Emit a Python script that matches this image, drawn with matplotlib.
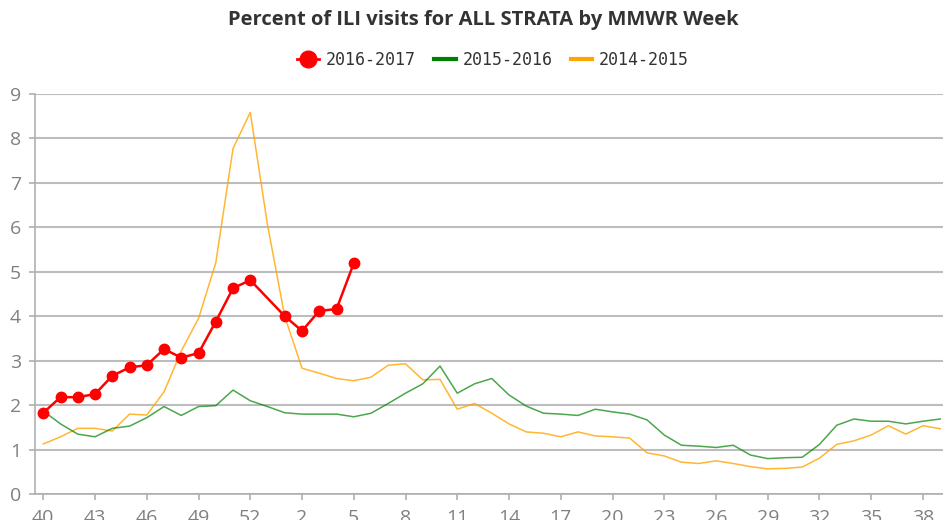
import matplotlib
matplotlib.use("Agg")
import matplotlib.pyplot as plt
from matplotlib.lines import Line2D
import numpy as np

weeks = list(range(40, 54)) + list(range(1, 40))

s2016 = [1.83, 2.18, 2.18, 2.25, 2.66, 2.85, 2.90, 3.26, 3.07, 3.17, 3.88, 4.63, 4.81,
         None, 4.00, 3.67, 4.12, 4.16, 5.19]

s2015 = [1.87, 1.58, 1.35, 1.29, 1.48, 1.53, 1.72, 1.97, 1.77, 1.97, 1.99, 2.34, 2.10,
         1.97, 1.83, 1.80, 1.80, 1.80, 1.74, 1.82, 2.04, 2.27, 2.48, 2.88, 2.27, 2.48,
         2.60, 2.23, 1.98, 1.82, 1.80, 1.77, 1.91, 1.85, 1.80, 1.67, 1.33, 1.10, 1.08,
         1.05, 1.10, 0.88, 0.80, 0.82, 0.83, 1.12, 1.55, 1.69, 1.64, 1.64, 1.58, 1.64, 1.69]

s2014 = [1.13, 1.29, 1.48, 1.48, 1.42, 1.80, 1.78, 2.30, 3.22, 3.95, 5.20, 7.77, 8.58,
         6.05, 3.99, 2.83, 2.72, 2.60, 2.55, 2.63, 2.90, 2.93, 2.57, 2.58, 1.91, 2.04,
         1.82, 1.58, 1.40, 1.37, 1.29, 1.40, 1.31, 1.29, 1.26, 0.93, 0.86, 0.72, 0.69,
         0.75, 0.69, 0.62, 0.57, 0.58, 0.61, 0.81, 1.12, 1.20, 1.33, 1.54, 1.35, 1.54, 1.47]

yticks = list(range(0, 10))

fig = plt.figure(figsize=(9.43, 5.2), dpi=100)
ax = fig.add_axes([35/943, 0.0496, 1 - 35/943, 0.8198 - 0.0496])

x14 = np.arange(len(s2014))
x15 = np.arange(len(s2015))
ax.plot(x14, s2014, color='#ffa500', alpha=0.8, lw=1.1, zorder=3)
ax.plot(x15, s2015, color='#008000', alpha=0.7, lw=1.1, zorder=4)
xr = [i for i, v in enumerate(s2016) if v is not None]
yr = [v for v in s2016 if v is not None]
ax.plot(xr, yr, color='#ff0000', lw=1.8, marker='o', ms=7.5, zorder=5)

ax.set_xlim(-0.481, 52.16)
ax.set_ylim(0, 9)
ax.set_yticks(yticks)
ax.set_yticklabels([str(t) for t in yticks])
tick_idx = list(range(0, len(weeks), 3))
ax.set_xticks(tick_idx)
ax.set_xticklabels([str(weeks[i]) for i in tick_idx])

ax.grid(axis='y', color='#bdbdbd', lw=1.5, zorder=0)
ax.set_axisbelow(True)
for side in ['top', 'right']:
    ax.spines[side].set_visible(False)
for side in ['left', 'bottom']:
    ax.spines[side].set_color('#b0b0b0')
    ax.spines[side].set_linewidth(1.2)
ax.tick_params(axis='both', colors='#b0b0b0', labelcolor='#808080', length=4, width=1.2,
               labelsize=14)
ax.tick_params(axis='y', pad=6)
ax.tick_params(axis='x', pad=7)
for lab in ax.get_xticklabels() + ax.get_yticklabels():
    lab.set_family('Open Sans')

fig.text(0.513, 0.962, 'Percent of ILI visits for ALL STRATA by MMWR Week',
         ha='center', va='center', fontsize=14.5, fontweight='bold', color='#333333',
         family='Open Sans')

handles = [
    Line2D([0], [0], color='#ff0000', lw=2, marker='o', ms=12),
    Line2D([0], [0], color='#008000', lw=3),
    Line2D([0], [0], color='#ffa500', lw=3),
]
labels = ['2016-2017', '2015-2016', '2014-2015']
fig.legend(handles, labels, loc='center', bbox_to_anchor=(0.523, 0.885), ncol=3,
           frameon=False, prop={'family': 'DejaVu Sans Mono', 'size': 12},
           handlelength=1.3, handletextpad=0.4, columnspacing=1.1,
           labelcolor='#333333')

fig.savefig('out.png', dpi=100)
